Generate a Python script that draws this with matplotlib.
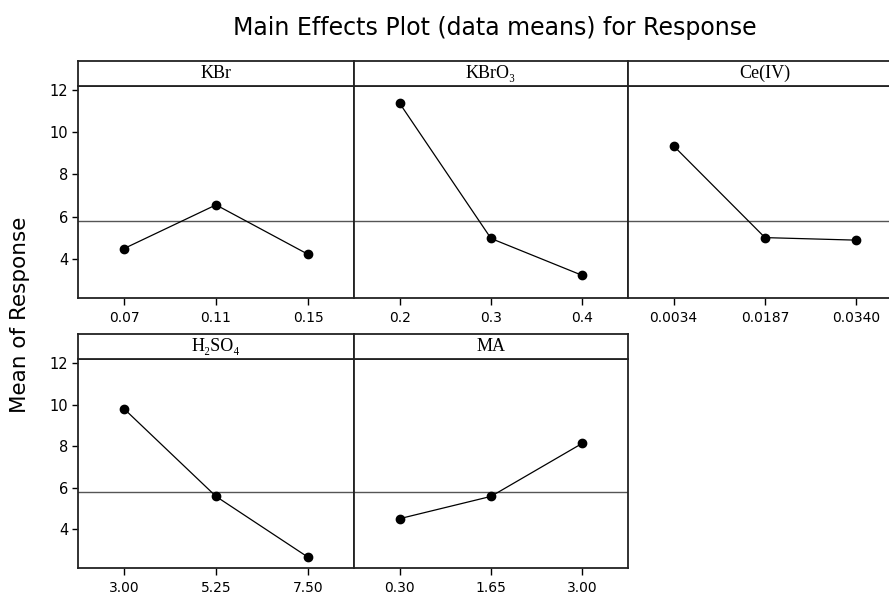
import matplotlib.pyplot as plt

# Means of the response for each factor level
factors = ['KBr', 'KBrO₃', 'Ce(IV)', 'H₂SO₄', 'MA']
level_labels = [
    ['0.07', '0.11', '0.15'],
    ['0.2', '0.3', '0.4'],
    ['0.0034', '0.0187', '0.0340'],
    ['3.00', '5.25', '7.50'],
    ['0.30', '1.65', '3.00'],
]
kbr_means = [4.49, 6.56, 4.22]
kbro3_means = [11.37, 4.97, 3.22]
ce_means = [9.35, 5.01, 4.89]
h2so4_means = [9.80, 5.59, 2.67]
ma_means = [4.52, 5.59, 8.14]
grand_mean = 5.80

means = [kbr_means, kbro3_means, ce_means, h2so4_means, ma_means]

W, H = 889, 596
fig = plt.figure(figsize=(W / 100, H / 100), dpi=100)


def px_axes(x0, y0, x1, y1):
    # axes placed in pixel coordinates measured from the top-left corner
    return fig.add_axes([x0 / W, 1 - y1 / H, (x1 - x0) / W, (y1 - y0) / H])


col_edges = [(78, 354), (354, 628), (628, 902)]
row_edges = [(61, 86, 298), (334, 359, 568)]   # header top, plot top, plot bottom
ylim = (2.15, 12.19)

for i, name in enumerate(factors):
    row, col = divmod(i, 3)
    x0, x1 = col_edges[col]
    htop, ptop, pbot = row_edges[row]

    ax = px_axes(x0, ptop, x1, pbot)
    ax.axhline(grand_mean, color='#555555', lw=1.0, zorder=1)
    ax.plot(range(3), means[i], color='black', lw=0.9, marker='o', ms=6,
            zorder=3)
    ax.set_xlim(-0.5, 2.5)
    ax.set_ylim(*ylim)
    ax.set_xticks(range(3))
    ax.set_xticklabels(level_labels[i], fontsize=10)
    ax.tick_params(axis='x', direction='out', length=5, width=1, pad=4)
    if col == 0:
        ax.set_yticks([4, 6, 8, 10, 12])
        ax.tick_params(axis='y', direction='out', length=4, width=1,
                       labelsize=10.5, pad=3)
    else:
        ax.set_yticks([])
    for s in ax.spines.values():
        s.set_linewidth(1.3)
        s.set_color('#222222')

    hx = px_axes(x0, htop, x1, ptop)
    hx.set_xticks([])
    hx.set_yticks([])
    for s in hx.spines.values():
        s.set_linewidth(1.3)
        s.set_color('#222222')
    hx.text(0.5, 0.5, name, ha='center', va='center', fontsize=13,
            family=['Liberation Serif', 'DejaVu Serif'],
            transform=hx.transAxes)

fig.text(495 / W, 1 - 28 / H, 'Main Effects Plot (data means) for Response',
         ha='center', va='center', fontsize=17)
fig.text(20 / W, 1 - 315 / H, 'Mean of Response', rotation=90,
         ha='center', va='center', fontsize=15.5)

fig.savefig('out.png', dpi=100)
